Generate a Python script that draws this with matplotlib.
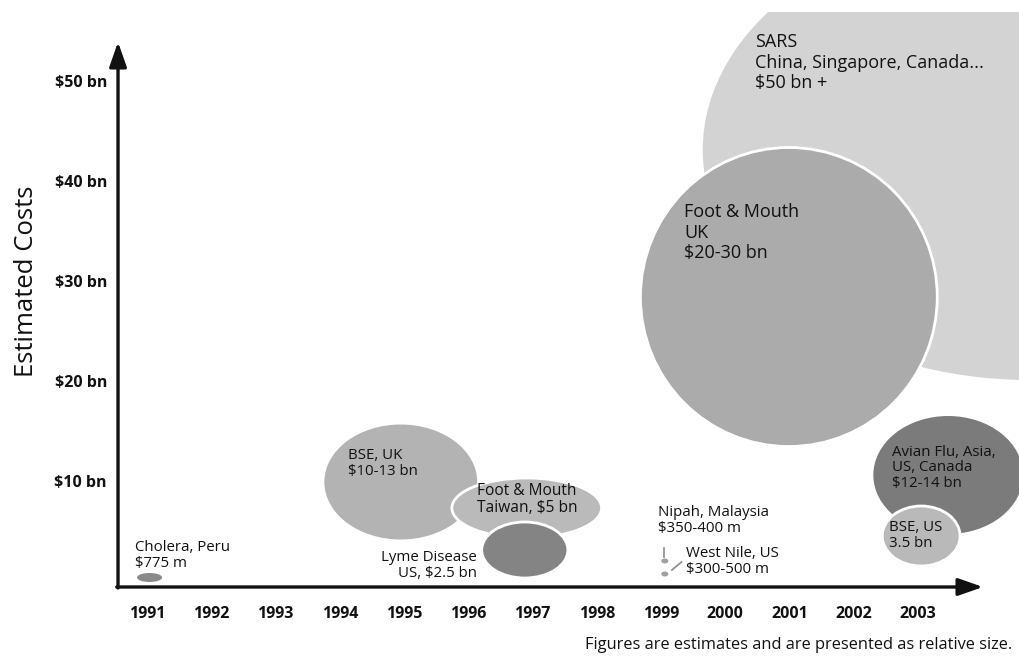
import matplotlib
matplotlib.use("Agg")
import matplotlib.pyplot as plt
from matplotlib.patches import Ellipse

plt.rcParams["font.family"] = ["Open Sans", "DejaVu Sans"]

# bubble data (centre year, centre cost in bn, bubble width in years, height in bn)
events = ["Cholera, Peru", "SARS", "Foot & Mouth, UK", "BSE, UK", "Foot & Mouth, Taiwan",
          "Lyme Disease", "Nipah", "West Nile", "Avian Flu", "BSE, US"]
center_year = [1991.04, 2004.74, 2000.99, 1994.95, 1996.91, 1996.88, 1999.06, 1999.06, 2003.47, 2003.05]
center_cost = [0.35, 43.1, 28.4, 9.9, 7.3, 3.1, 2.0, 0.7, 10.6, 4.5]
bubble_w = [0.39, 10.18, 4.62, 2.38, 2.33, 1.34, 0.11, 0.11, 2.33, 1.21]
bubble_h = [0.9, 46.0, 29.9, 11.5, 6.0, 5.6, 0.5, 0.5, 11.8, 6.0]

labels = ["Cholera, Peru\n$775 m",
          "SARS\nChina, Singapore, Canada...\n$50 bn +",
          "Foot & Mouth\nUK\n$20-30 bn",
          "BSE, UK\n$10-13 bn",
          "Foot & Mouth\nTaiwan, $5 bn",
          "Lyme Disease\nUS, $2.5 bn",
          "Nipah, Malaysia\n$350-400 m",
          "West Nile, US\n$300-500 m",
          "Avian Flu, Asia,\nUS, Canada\n$12-14 bn",
          "BSE, US\n3.5 bn"]

years = list(range(1991, 2004))
cost_ticks = [10, 20, 30, 40, 50]
cost_labels = ["$10 bn", "$20 bn", "$30 bn", "$40 bn", "$50 bn"]

# styling / layout
fills = ["#8a8a8a", "#d3d3d3", "#ababab", "#b3b3b3", "#bababa",
         "#848484", "#a0a0a0", "#a0a0a0", "#7b7b7b", "#b9b9b9"]
white_edge = [False, False, True, False, True, True, False, False, False, True]
# last-line baseline anchor of each label, alignment, size
label_pos = [(1990.81, 1.4), (2000.46, 49.3), (1999.36, 32.3), (1994.13, 10.6), (1996.14, 6.9),
             (1996.14, 0.4), (1998.95, 4.9), (1999.39, 0.8), (2002.60, 9.4), (2002.55, 3.4)]
label_ha = ["left", "left", "left", "left", "left", "right", "left", "left", "left", "left"]
label_size = [10.8, 13, 13, 10.8, 11.2, 10.8, 10.8, 10.8, 10.8, 10.8]
label_lsp = [1.1, 1.17, 1.17, 1.1, 1.1, 1.1, 1.1, 1.1, 1.05, 1.1]
txt = "#111111"

fig = plt.figure(figsize=(10.2, 6.58), dpi=100)
ax = fig.add_axes([0, 0, 1, 646 / 658])
ax.set_xlim(1988.712, 2004.588)
ax.set_ylim(-7.7, 56.9)

for i in range(len(events)):
    e = Ellipse((center_year[i], center_cost[i]), bubble_w[i], bubble_h[i],
                facecolor=fills[i], edgecolor="white" if white_edge[i] else "none",
                linewidth=2 if white_edge[i] else 0, zorder=2 + i)
    ax.add_patch(e)
    ax.text(label_pos[i][0], label_pos[i][1], labels[i], ha=label_ha[i], va="baseline",
            multialignment=label_ha[i], fontsize=label_size[i], color=txt,
            linespacing=label_lsp[i], zorder=20)

# small leader lines for the two tiny bubbles
ny, wy = center_year[6], center_year[7]
ax.plot([ny - 0.015, ny - 0.015], [2.4, 3.3], color="#8a8a8a", lw=1.2, zorder=15)
ax.plot([wy + 0.11, wy + 0.26], [1.1, 1.9], color="#8a8a8a", lw=1.2, zorder=15)

# axes with arrow heads
x0, y0 = 1990.549, -0.6
for s in ax.spines.values():
    s.set_visible(False)
ax.spines["left"].set_position(("data", x0))
ax.spines["bottom"].set_position(("data", y0))
ax.annotate("", xy=(2004.012, y0), xytext=(x0 - 0.02, y0),
            arrowprops=dict(arrowstyle="-|>,head_length=1.0,head_width=0.35", color="#111111",
                            lw=2.4, mutation_scale=15, shrinkA=0, shrinkB=0), zorder=30)
ax.annotate("", xy=(x0, 53.9), xytext=(x0, y0 - 0.1),
            arrowprops=dict(arrowstyle="-|>,head_length=1.0,head_width=0.35", color="#111111",
                            lw=2.4, mutation_scale=15, shrinkA=0, shrinkB=0), zorder=30)

ax.set_xticks(years)
ax.set_xticklabels([str(y) for y in years], fontsize=11.5, fontweight="bold", color=txt)
ax.set_yticks(cost_ticks)
ax.set_yticklabels(cost_labels, fontsize=11.5, fontweight="bold", color=txt)
ax.tick_params(axis="x", length=0, pad=14)
ax.tick_params(axis="y", length=0, pad=8)

ax.set_ylabel("Estimated Costs", fontsize=18.5, color=txt)
ax.yaxis.set_label_coords(39 / 1020, (658 - 281) / 646)

fig.text(1012 / 1020, 1 - 645 / 658, "Figures are estimates and are presented as relative size.",
         ha="right", va="center", fontsize=11.8, color=txt)

fig.savefig("out.png", dpi=100)
